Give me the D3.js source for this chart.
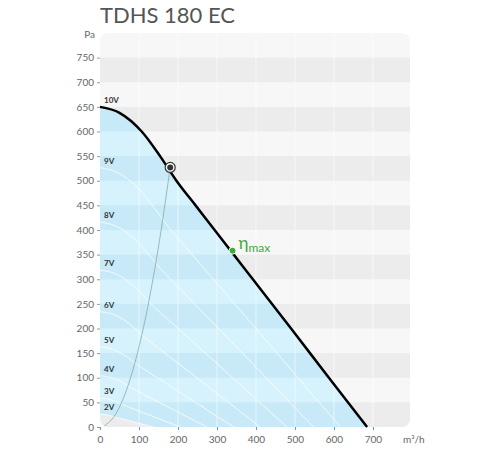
<!DOCTYPE html><html><head><meta charset="utf-8"><script src="https://cdn.jsdelivr.net/npm/d3@7"></script>
<style>body{margin:0;background:#fff;font-family:Lato,sans-serif}</style></head><body><svg id="c" width="500" height="450"></svg>
<script>
const maxQ=[0,50,107,154,196,245,294,343,392,490,587,685];
const maxP=[650,638,600,550,500,450,400,350,300,200,100,0];
const voltages=[10,9,8,7,6,5,4,3,2];
const xTicks=[0,100,200,300,400,500,600,700];
const yTicks=[0,50,100,150,200,250,300,350,400,450,500,550,600,650,700,750];
const opPoint=[180,527];
const etaPoint=[340,358];
const sysQ=[10,40,70,100,130,160,180];

const svg=d3.select("#c");
const x=d3.scaleLinear().domain([0,795]).range([100,410]);
const y=d3.scaleLinear().domain([0,800]).range([427,33]);
const pts=maxQ.map((q,i)=>[q,maxP[i]]);
const curve=d3.line().x(d=>x(d[0])).y(d=>y(d[1])).curve(d3.curveMonotoneX);
const scaled=v=>pts.map(([q,p])=>[q*v/10,p*(v/10)**2]);

svg.append("text").attr("x",100).attr("y",23).attr("font-size",22).attr("fill","#555").text("TDHS 180 EC");
const defs=svg.append("defs");
defs.append("clipPath").attr("id","pc").append("rect").attr("x",100).attr("y",33).attr("width",310).attr("height",394).attr("rx",8);
const g=svg.append("g").attr("clip-path","url(#pc)");
g.append("rect").attr("x",100).attr("y",33).attr("width",310).attr("height",394).attr("fill","#f7f7f7");
const bands=d3.range(0,800,100);
g.selectAll(".b").data(bands).join("rect").attr("x",100).attr("width",310).attr("y",d=>y(d+50)).attr("height",y(0)-y(50)).attr("fill","#ececec");
const c2=scaled(2);
const areaPath=curve(pts)+"L"+x(c2[c2.length-1][0])+","+y(0)+curve(c2.slice().reverse()).replace(/^M/,"L")+"Z";
defs.append("clipPath").attr("id","ac").append("path").attr("d",areaPath);
g.append("path").attr("d",areaPath).attr("fill","#d5f2fd");
g.append("g").attr("clip-path","url(#ac)").selectAll("rect").data(bands).join("rect").attr("x",100).attr("width",310).attr("y",d=>y(d+50)).attr("height",y(0)-y(50)).attr("fill","#c7e9f8");
g.selectAll(".vg").data(xTicks.slice(1)).join("line").attr("x1",x).attr("x2",x).attr("y1",33).attr("y2",427).attr("stroke","#fff").attr("stroke-opacity",0.6);
voltages.slice(1).forEach(v=>g.append("path").attr("d",curve(scaled(v))).attr("fill","none").attr("stroke","#fff").attr("stroke-opacity",0.8));
g.append("path").attr("d",d3.line().x(d=>x(d)).y(d=>y(527*(d/180)**2)).curve(d3.curveMonotoneX)(sysQ)).attr("fill","none").attr("stroke","#8aa").attr("stroke-width",0.8);
svg.append("path").attr("d",curve(pts)).attr("fill","none").attr("stroke","#000").attr("stroke-width",2.5);
voltages.forEach(v=>svg.append("text").attr("x",104).attr("y",y(650*(v/10)**2)-4).attr("font-size",8).attr("font-weight","bold").attr("fill","#333").text(v+"V"));
svg.append("circle").attr("cx",x(opPoint[0])).attr("cy",y(opPoint[1])).attr("r",5).attr("fill","#fff").attr("stroke","#333").attr("stroke-width",1.2);
svg.append("circle").attr("cx",x(opPoint[0])).attr("cy",y(opPoint[1])).attr("r",3).attr("fill","#333");
svg.append("circle").attr("cx",x(etaPoint[0])).attr("cy",y(etaPoint[1])).attr("r",3.5).attr("fill","#3daa3d").attr("stroke","#fff");
const et=svg.append("text").attr("x",x(etaPoint[0])+6).attr("y",y(etaPoint[1])-2).attr("fill","#3daa3d").attr("font-size",17);
et.append("tspan").text("η");et.append("tspan").attr("font-size",12).attr("dy",3).text("max");
const ya=svg.append("g").attr("transform","translate(100,0)").call(d3.axisLeft(y).tickValues(yTicks).tickSize(3).tickPadding(3));
const xa=svg.append("g").attr("transform","translate(0,427)").call(d3.axisBottom(x).tickValues(xTicks).tickSize(3).tickPadding(6));
[ya,xa].forEach(a=>{a.select(".domain").remove();a.selectAll("line").attr("stroke","#5b9bd5");a.selectAll("text").attr("fill","#666").attr("font-size",10).attr("font-family","Lato")});
ya.selectAll("line").attr("stroke","#999");
svg.append("text").attr("x",95).attr("y",38).attr("text-anchor","end").attr("font-size",10).attr("fill","#666").text("Pa");
svg.append("text").attr("x",403).attr("y",443).attr("font-size",10).attr("fill","#666").text("m³/h");
</script></body></html>
